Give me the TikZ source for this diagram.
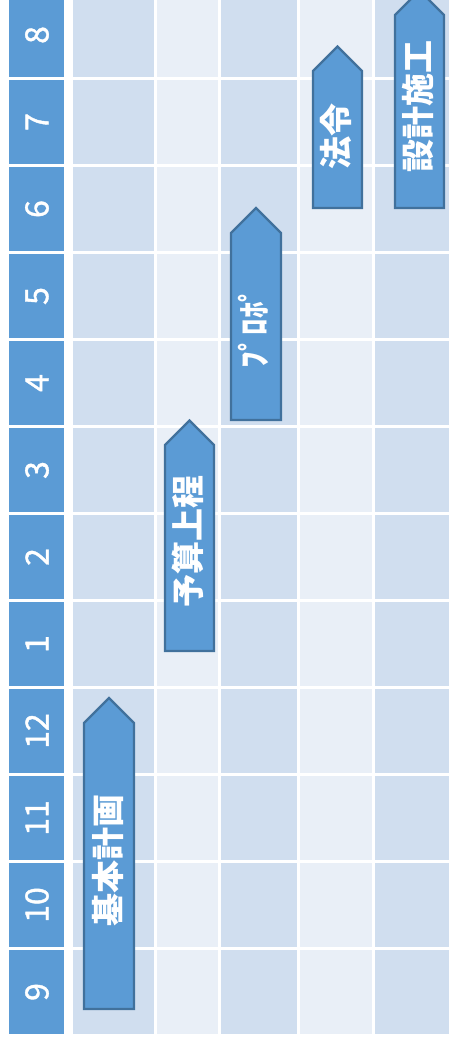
\documentclass[tikz,border=0pt]{standalone}
\usepackage{fontspec}
\newfontfamily\jp{Noto Sans CJK JP}
\newfontfamily\jpdig[FakeBold=1.2]{Noto Sans CJK JP}
\definecolor{hdr}{HTML}{5B9BD5}
\definecolor{darkc}{HTML}{D0DEEF}
\definecolor{lightc}{HTML}{E9EFF7}
\definecolor{arrfill}{HTML}{5B9BD5}
\definecolor{arrline}{HTML}{41719C}
\tikzset{
  monthlabel/.style={text=white, inner sep=0pt, rotate=90, font=\jpdig\fontsize{32}{32}\selectfont},
  tasklabel/.style={text=white, inner sep=0pt, rotate=90, font=\jp\bfseries\fontsize{33}{33}\selectfont},
  taskarrow/.style={fill=arrfill, draw=arrline, line width=2.2pt, line join=miter},
}
\begin{document}
\begin{tikzpicture}[x=1pt,y=-1pt]
\clip (0,0) rectangle (449,1044);
\fill[white] (0,0) rectangle (449,1044);
\foreach \m [count=\i from 0] in {8,7,6,5,4,3,2,1,12,11,10,9}{
  \pgfmathsetmacro\yt{-7+87*\i}
  \pgfmathsetmacro\yb{\yt+84}
  \pgfmathsetmacro\yc{\yt+42}
  \fill[hdr] (9,\yt) rectangle (64,\yb);
  \fill[darkc] (73,\yt) rectangle (154,\yb);
  \fill[lightc] (157,\yt) rectangle (218,\yb);
  \fill[darkc] (221,\yt) rectangle (297,\yb);
  \fill[lightc] (300,\yt) rectangle (372,\yb);
  \fill[darkc] (375,\yt) rectangle (455,\yb);
  \node[monthlabel] (m\i) at (37,\yc) {\m};
}
% arrows
\draw[taskarrow] (84,1009) -- (84,723) -- (109,698) -- (134,723) -- (134,1009) -- cycle;
\draw[taskarrow] (165,651) -- (165,445) -- (189.5,420.5) -- (214,445) -- (214,651) -- cycle;
\draw[taskarrow] (231,420) -- (231,233) -- (256,208) -- (281,233) -- (281,420) -- cycle;
\draw[taskarrow] (313,208) -- (313,71) -- (337.5,46.5) -- (362,71) -- (362,208) -- cycle;
\draw[taskarrow] (395,208) -- (395,15) -- (419.5,-9.5) -- (444,15) -- (444,208) -- cycle;
\node[tasklabel] (t1) at (108,860) {基本計画};
\node[tasklabel] (t2) at (188,541) {予算上程};
\node[tasklabel] (t3) at (253,327) {ﾌﾟﾛﾎﾟ};
\node[tasklabel] (t4) at (336,136) {法令};
\node[tasklabel] (t5) at (418,106) {設計施工};
\end{tikzpicture}
\end{document}
